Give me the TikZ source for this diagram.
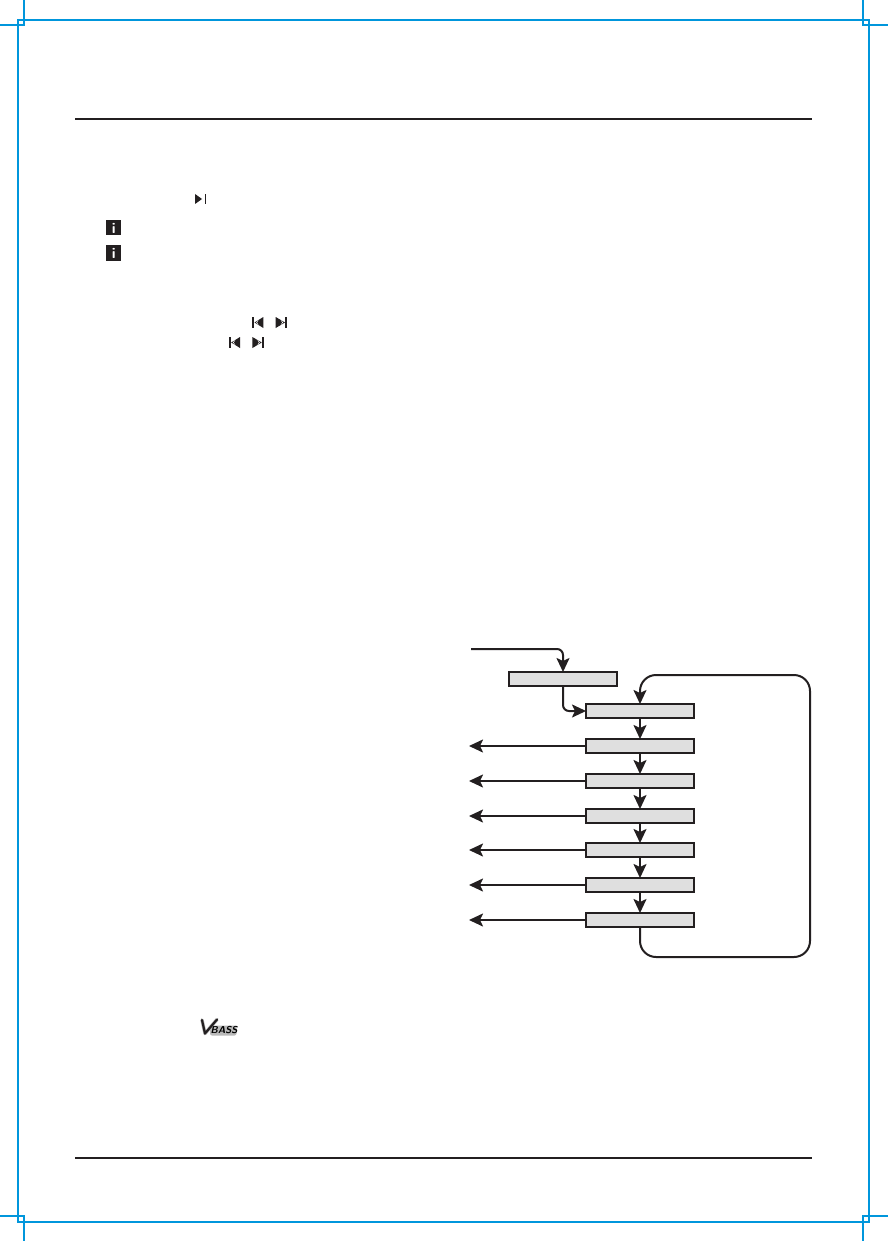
\documentclass[tikz,border=0pt]{standalone}
\usetikzlibrary{arrows.meta}
\definecolor{cropblue}{HTML}{0096DC}
\definecolor{boxgray}{HTML}{DFDFDF}
\definecolor{inkk}{HTML}{231F20}
\tikzset{
  crop/.style={draw=cropblue,line width=2pt},
  rulel/.style={draw=inkk,line width=1.8pt},
  flowbox/.style={draw=inkk,fill=boxgray,line width=2pt,minimum width=108pt,minimum height=14pt,inner sep=0pt,outer sep=0pt},
  flow/.style={draw=inkk,line width=2pt,rounded corners=6pt,-{Stealth[length=14pt,width=13pt,inset=3pt]}},
  loopline/.style={draw=inkk,line width=2pt,rounded corners=16pt,-{Stealth[length=14pt,width=13pt,inset=3pt]}},
  iconbox/.style={fill=inkk,minimum width=15pt,minimum height=15pt,inner sep=0pt,text=white,font=\sffamily\bfseries\fontsize{15}{15}\selectfont},
}
\begin{document}
\begin{tikzpicture}[x=1pt,y=-1pt]
\useasboundingbox (0,0) rectangle (888,1241);
\fill[white] (0,0) rectangle (888,1241);
% crop frame
\draw[crop] (18,1222) -- (18,20) -- (869,20) -- (869,1222) -- cycle;
\draw[crop] (24,0) -- (24,25) -- (0,25);
\draw[crop] (863,0) -- (863,25) -- (888,25);
\draw[crop] (24,1241) -- (24,1216) -- (0,1216);
\draw[crop] (863,1241) -- (863,1216) -- (888,1216);
% rules
\draw[rulel] (75,119) -- (812,119);
\draw[rulel] (75,1158) -- (812,1158);
% icons
\fill[inkk] (195,194) -- (202,199) -- (195,204) -- cycle;
\fill[inkk] (205,194) rectangle (206,204);
\node[iconbox] (i1) at (113.7,228) {i};
\node[iconbox] (i2) at (113.7,253) {i};
\foreach \ox/\oy/\gap in {252.3/322.5/21.7,229/342.5/21.7}{
  \begin{scope}[shift={(\ox,\oy)}]
  \fill[inkk] (0,-5.5) rectangle (1.7,5.5);
  \fill[inkk] (2.2,0) -- (11,-5.5) -- (11,5.5) -- cycle;
  \draw[white,line width=0.5pt] (6,-2) -- (4.2,0) -- (6,2);
  \begin{scope}[shift={(\gap,0)}]
  \fill[inkk] (1.7,-5.5) -- (11,0) -- (1.7,5.5) -- cycle;
  \draw[white,line width=0.5pt] (7,-2) -- (8.8,0) -- (7,2);
  \fill[inkk] (11.3,-5.5) rectangle (13,5.5);
  \end{scope}
  \end{scope}
}
% VBASS logo
\fill[gray!55,rounded corners=2pt] (210,1025.5) rectangle (236.5,1035.5);
\draw[gray!60,line width=3.4pt,line join=round,line cap=round] (202,1020) -- (205,1033.5) -- (217,1019.5);
\draw[inkk,line width=2.2pt,line join=round,line cap=round] (202,1020) -- (205,1033.5) -- (217,1019.5);
\node[inner sep=0pt,font=\sffamily\bfseries\itshape\fontsize{10}{10}\selectfont,text=black,anchor=west] (vb) at (210.5,1030.5) {BASS};
% flow
\node[flowbox] (top) at (563,679) {};
\node[flowbox] (b1) at (640,711) {};
\node[flowbox] (b2) at (640,746) {};
\node[flowbox] (b3) at (640,781) {};
\node[flowbox] (b4) at (640,816) {};
\node[flowbox] (b5) at (640,850) {};
\node[flowbox] (b6) at (640,885) {};
\node[flowbox] (b7) at (640,920) {};
\coordinate (start) at (471,649);
\coordinate (corner) at (563,649);
\draw[flow] (start) -- (corner) -- (top.north);
\draw[flow] (top.south) |- (b1.west);
\foreach \a/\b in {b1/b2,b2/b3,b3/b4,b4/b5,b5/b6,b6/b7}{\draw[flow] (\a.south) -- (\b.north);}
\foreach \b/\n in {b2/1,b3/2,b4/3,b5/4,b6/5,b7/6}{
  \coordinate (o\n) at (469,0 |- \b.west);
  \draw[flow] (\b.west) -- (o\n);
}
\coordinate (r1) at (810,957);
\coordinate (r2) at (810,675);
\coordinate (l1) at (640,957);
\coordinate (l2) at (640,675);
\draw[loopline] (b7.south) -- (l1) -- (r1) -- (r2) -- (l2) -- (b1.north);
\end{tikzpicture}
\end{document}
